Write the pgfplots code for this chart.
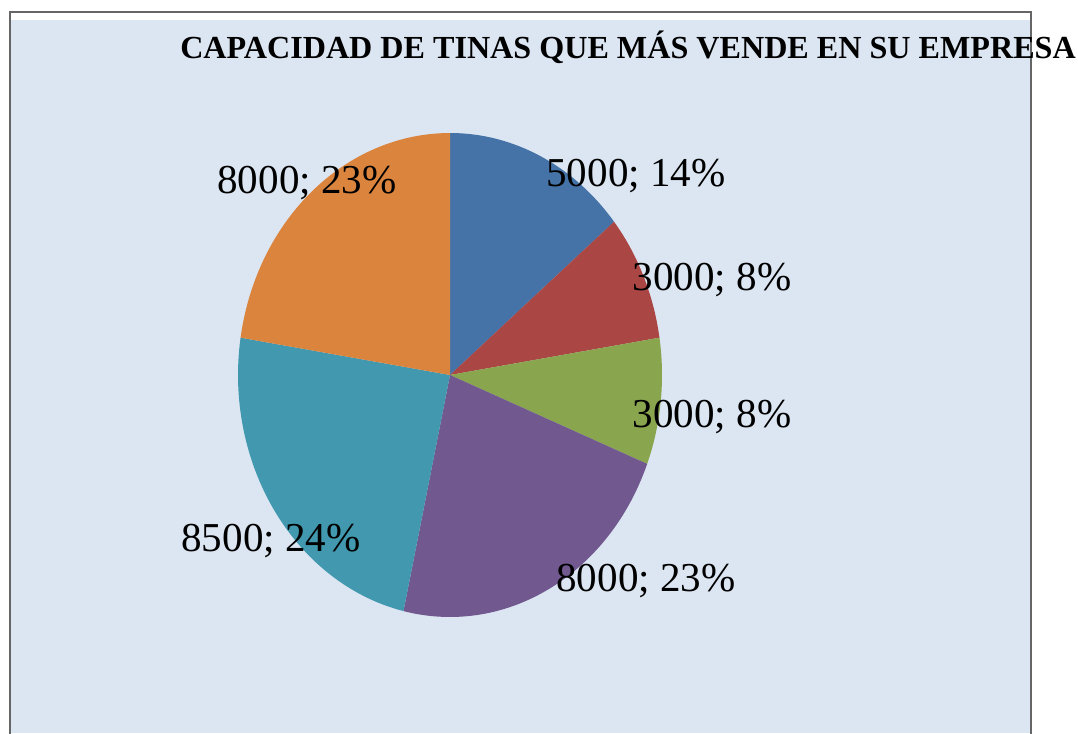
\documentclass[border=0pt]{standalone}
\usepackage{pgfplots}
\pgfplotsset{compat=1.18}
\usepackage{fontspec}
\setmainfont{Liberation Serif}
\definecolor{bgc}{HTML}{DCE6F2}
\definecolor{c1}{HTML}{4572A7}
\definecolor{c2}{HTML}{AA4643}
\definecolor{c3}{HTML}{89A54E}
\definecolor{c4}{HTML}{71588F}
\definecolor{c5}{HTML}{4198AF}
\definecolor{c6}{HTML}{DB843D}
% data
\def\vA{5000}\def\vB{3000}\def\vC{3000}\def\vD{8000}\def\vE{8500}\def\vF{8000}
\pgfmathsetmacro{\tot}{\vA/1000+\vB/1000+\vC/1000+\vD/1000+\vE/1000+\vF/1000}
\pgfmathsetmacro{\aA}{90}
\pgfmathsetmacro{\aB}{\aA-0.36*\vA/\tot}
\pgfmathsetmacro{\aC}{\aB-0.36*\vB/\tot}
\pgfmathsetmacro{\aD}{\aC-0.36*\vC/\tot}
\pgfmathsetmacro{\aE}{\aD-0.36*\vD/\tot}
\pgfmathsetmacro{\aF}{\aE-0.36*\vE/\tot}
\pgfmathsetmacro{\aG}{\aF-0.36*\vF/\tot}
\begin{document}
\begin{tikzpicture}[x=0.75pt,y=0.75pt]
\useasboundingbox (0,0) rectangle (1078,733);
\fill[white] (0,0) rectangle (1078,733);
\fill[bgc] (10,0) rectangle (1030,713);
\draw[gray!80!black, line width=1.5pt] (9.5,-2) -- (9.5,721) -- (1030.5,721) -- (1030.5,-2);
\begin{axis}[
  at={(337.5pt,268.5pt)}, anchor=center,
  scale only axis, width=318pt, height=363pt,
  xmin=-1, xmax=1, ymin=-1, ymax=1,
  hide axis, clip=false]
\addplot[fill=c1, draw=none, domain=\aB:\aA, samples=60] ({cos(x)},{sin(x)}) -- (axis cs:0,0) -- cycle;
\addplot[fill=c2, draw=none, domain=\aC:\aB, samples=60] ({cos(x)},{sin(x)}) -- (axis cs:0,0) -- cycle;
\addplot[fill=c3, draw=none, domain=\aD:\aC, samples=60] ({cos(x)},{sin(x)}) -- (axis cs:0,0) -- cycle;
\addplot[fill=c4, draw=none, domain=\aE:\aD, samples=60] ({cos(x)},{sin(x)}) -- (axis cs:0,0) -- cycle;
\addplot[fill=c5, draw=none, domain=\aF:\aE, samples=60] ({cos(x)},{sin(x)}) -- (axis cs:0,0) -- cycle;
\addplot[fill=c6, draw=none, domain=\aG:\aF, samples=60] ({cos(x)},{sin(x)}) -- (axis cs:0,0) -- cycle;
\end{axis}
\begin{scope}[every node/.style={font=\fontsize{30.8}{34}\selectfont, inner sep=0pt}]
\node at (636,733-176) {5000; 14\%};
\node at (712,733-280) {3000; 8\%};
\node at (712,733-417) {3000; 8\%};
\node at (646,733-581) {8000; 23\%};
\node at (271,733-541) {8500; 24\%};
\node at (307,733-183) {8000; 23\%};
\end{scope}
\node[font=\bfseries\fontsize{24.1}{28}\selectfont, inner sep=0pt, anchor=west] at (180,733-47) {CAPACIDAD DE TINAS QUE MÁS VENDE EN SU EMPRESA};
\end{tikzpicture}
\end{document}
